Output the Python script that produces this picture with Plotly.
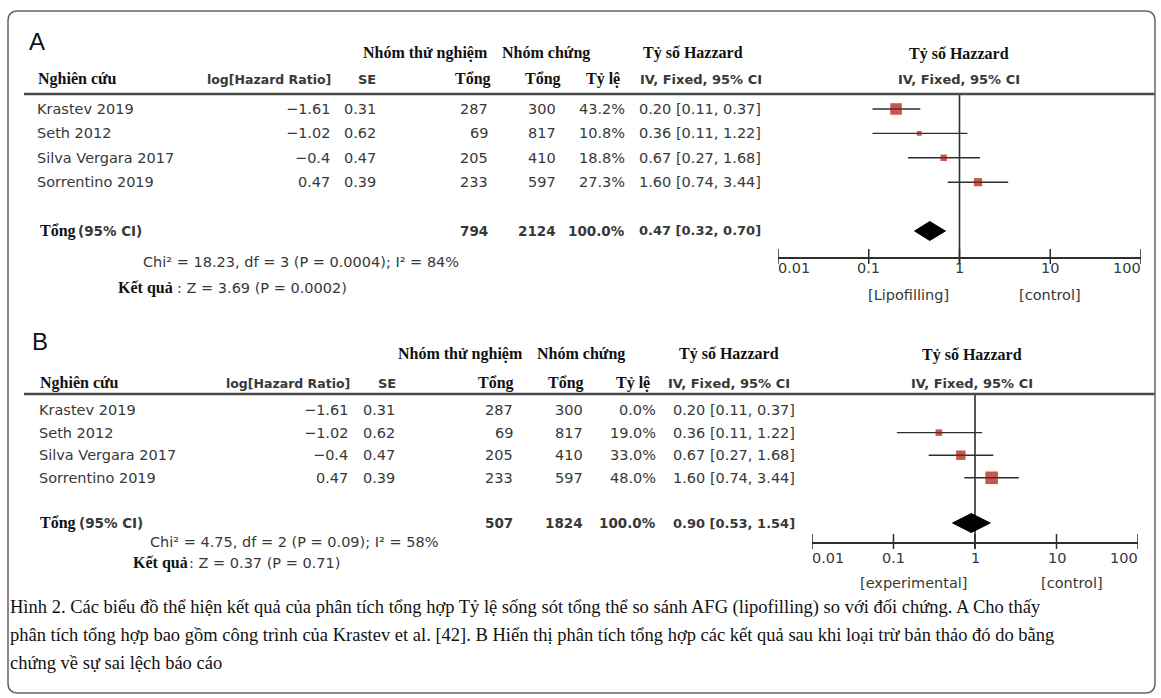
import math
import plotly.graph_objects as go

W, H = 1161, 698

# ---- data -------------------------------------------------------------
studies = ["Krastev 2019", "Seth 2012", "Silva Vergara 2017", "Sorrentino 2019"]
log_hr = [-1.61, -1.02, -0.4, 0.47]
se = [0.31, 0.62, 0.47, 0.39]
exp_total = [287, 69, 205, 233]
ctrl_total = [300, 817, 410, 597]
hr = [0.20, 0.36, 0.67, 1.60]
ci_lo = [0.11, 0.11, 0.27, 0.74]
ci_hi = [0.37, 1.22, 1.68, 3.44]
weight_a = [43.2, 10.8, 18.8, 27.3]
weight_b = [0.0, 19.0, 33.0, 48.0]
pooled_a = [0.47, 0.32, 0.70]
pooled_b = [0.90, 0.53, 1.54]
totals_a = [794, 2124]
totals_b = [507, 1824]
chi_a = "Chi² = 18.23, df = 3 (P = 0.0004); I² = 84%"
chi_b = "Chi² = 4.75, df = 2 (P = 0.09); I² = 58%"
z_a = ": Z = 3.69 (P = 0.0002)"
z_b = ": Z = 0.37 (P = 0.71)"
tick_vals = [0.01, 0.1, 1, 10, 100]
tick_text = ["0.01", "0.1", "1", "10", "100"]
favours_a = ["[Lipofilling]", "[control]"]
favours_b = ["[experimental]", "[control]"]
caption = [
    "Hình 2. Các biểu đồ thể hiện kết quả của phân tích tổng hợp Tỷ lệ sống sót tổng thể so sánh AFG (lipofilling) so với đối chứng. A Cho thấy",
    "phân tích tổng hợp bao gồm công trình của Krastev et al. [42]. B Hiển thị phân tích tổng hợp các kết quả sau khi loại trừ bản thảo đó do bằng",
    "chứng về sự sai lệch báo cáo",
]

# ---- styling ------------------------------------------------------------
SANS = "DejaVu Sans"
SERIF = "Liberation Serif"
TXT = "#383838"
HEAD = "#111111"
RED = "#a8140c"
LINE = "#2e2e2e"
FS = 14.5      # regular table text
FB = 13        # bold table text

# ---- page layout of each panel (pixel positions) ------------------------
panels = [
    dict(label="A", lab_xy=(27, 41), h1=53, h2=79, rule=94, row0=109, step=24.4,
         ax_px=(778, 1141), ax_y=258, dom_bot=275, lab_y=268, fav_y=295,
         fav_x=(951, 1083),
         col_study=35, col_loghr=332, col_se=378, col_exp=490, col_ctrl=558,
         col_w=627, col_ci=763,
         hd_study=36, hd_loghr=333, hd_se=378, hd_exp=493, hd_ctrl=563, hd_w=622,
         hd_ci=638, hd_grp1=361, hd_grp2=500, hd_hr=641, hd_plot=959,
         tot_x=(38, 74), chi_xy=(141, 262), res_xy=(116, 288), res_z=175,
         weights=weight_a, pooled=pooled_a, totals=totals_a, chi=chi_a, z=z_a,
         fav=favours_a, xa="x", ya="y"),
    dict(label="B", lab_xy=(30, 341), h1=354, h2=383, rule=394, row0=410, step=22.6,
         ax_px=(812, 1138), ax_y=543, dom_bot=560, lab_y=558, fav_y=583,
         fav_x=(970, 1105),
         col_study=37, col_loghr=350, col_se=397, col_exp=515, col_ctrl=585,
         col_w=658, col_ci=797,
         hd_study=38, hd_loghr=352, hd_se=398, hd_exp=516, hd_ctrl=586, hd_w=652,
         hd_ci=666, hd_grp1=396, hd_grp2=535, hd_hr=677, hd_plot=972,
         tot_x=(38, 75), chi_xy=(148, 542), res_xy=(131, 563), res_z=187,
         weights=weight_b, pooled=pooled_b, totals=totals_b, chi=chi_b, z=z_b,
         fav=favours_b, xa="x2", ya="y2"),
]

fig = go.Figure()
annotations = []
shapes = []


def note(text, x, y, xref="x3", yref="y3", anchor="left", family=SANS, size=FS,
         color=TXT, xshift=0):
    annotations.append(dict(text=text, x=x, y=y, xref=xref, yref=yref,
                            xanchor=anchor, yanchor="middle", showarrow=False,
                            xshift=xshift,
                            font=dict(family=family, size=size, color=color)))


def fmt(v):
    return f"{v:g}".replace("-", "−")


# full-page pixel axis used for text and frame placement
fig.add_trace(go.Scatter(x=[0], y=[0], xaxis="x3", yaxis="y3", mode="markers",
                         marker=dict(opacity=0), hoverinfo="skip", showlegend=False))

layout_axes = {}
for k, p in enumerate(panels):
    s = p["step"]
    xa, ya = p["xa"], p["ya"]
    idx = lambda py, p=p: (py - p["row0"]) / p["step"]
    y_top = idx(p["rule"])
    y_bot = idx(p["dom_bot"])
    y_axis = idx(p["ax_y"])
    tot_idx = 5

    xname = "xaxis" if k == 0 else "xaxis2"
    yname = "yaxis" if k == 0 else "yaxis2"
    layout_axes[xname] = dict(
        type="log", range=[-2, 2], domain=[p["ax_px"][0] / W, p["ax_px"][1] / W],
        anchor="free", position=1 - p["ax_y"] / H, showline=True, linecolor=LINE,
        linewidth=1.5, showticklabels=False, ticks="",
        showgrid=False, zeroline=False, automargin=False)
    layout_axes[yname] = dict(range=[y_bot, y_top],
                              domain=[1 - p["dom_bot"] / H, 1 - p["rule"] / H],
                              visible=False, anchor=xa, automargin=False)

    # crossing tick marks on the log axis
    tx, ty = [], []
    for v in tick_vals:
        tx += [v, v, None]
        ty += [y_axis - 9 / s, y_axis + 6 / s, None]
    fig.add_trace(go.Scatter(x=tx, y=ty, xaxis=xa, yaxis=ya, mode="lines",
                             line=dict(color=LINE, width=1.5),
                             hoverinfo="skip", showlegend=False))
    # tick labels: end labels sit inside the axis span
    for j, (v, t) in enumerate(zip(tick_vals, tick_text)):
        if j == 0:
            anc, sh = "left", -2
        elif j == len(tick_vals) - 1:
            anc, sh = "right", 2
        else:
            anc, sh = "center", 0
        note(t, math.log10(v), p["lab_y"], xref=xa, anchor=anc, xshift=sh)

    # line of no effect
    fig.add_trace(go.Scatter(x=[1, 1], y=[y_top, y_axis + 6 / s], xaxis=xa, yaxis=ya,
                             mode="lines", line=dict(color=LINE, width=1.6),
                             hoverinfo="skip", showlegend=False))

    # confidence intervals and weighted squares
    rows = [i for i, w in enumerate(p["weights"]) if w > 0]
    cx, cy = [], []
    for i in rows:
        cx += [ci_lo[i], ci_hi[i], None]
        cy += [i, i, None]
    fig.add_trace(go.Scatter(x=cx, y=cy, xaxis=xa, yaxis=ya, mode="lines",
                             line=dict(color=LINE, width=1.4),
                             hoverinfo="skip", showlegend=False))
    fig.add_trace(go.Scatter(
        x=[hr[i] for i in rows], y=rows, xaxis=xa, yaxis=ya, mode="markers",
        marker=dict(symbol="square", color=RED,
                    size=[2.5 + 0.21 * p["weights"][i] for i in rows],
                    line=dict(width=0)),
        hoverinfo="skip", showlegend=False))

    # pooled estimate diamond
    est, lo, hi = p["pooled"]
    hh = 9.5 / s
    fig.add_trace(go.Scatter(
        x=[lo, est, hi, est, lo], y=[tot_idx, tot_idx - hh, tot_idx, tot_idx + hh, tot_idx],
        xaxis=xa, yaxis=ya, mode="lines", fill="toself", fillcolor="black",
        line=dict(color="black", width=1), hoverinfo="skip", showlegend=False))

    # header block
    note(p["label"], p["lab_xy"][0], p["lab_xy"][1], size=24, color=HEAD,
         family="Liberation Sans")
    note("<b>Nhóm thử nghiệm</b>", p["hd_grp1"], p["h1"], family=SERIF, size=16, color=HEAD)
    note("<b>Nhóm chứng</b>", p["hd_grp2"], p["h1"], family=SERIF, size=16, color=HEAD)
    note("<b>Tỷ số Hazzard</b>", p["hd_hr"], p["h1"], family=SERIF, size=16, color=HEAD)
    note("<b>Tỷ số Hazzard</b>", p["hd_plot"], p["h1"] + 1, anchor="center",
         family=SERIF, size=16, color=HEAD)
    note("<b>Nghiên cứu</b>", p["hd_study"], p["h2"], family=SERIF, size=16, color=HEAD)
    note("<b>log[Hazard Ratio]</b>", p["hd_loghr"], p["h2"], anchor="right", size=12.5)
    note("<b>SE</b>", p["hd_se"], p["h2"], anchor="right", size=FB)
    note("<b>Tổng</b>", p["hd_exp"], p["h2"], anchor="right", family=SERIF, size=16, color=HEAD)
    note("<b>Tổng</b>", p["hd_ctrl"], p["h2"], anchor="right", family=SERIF, size=16, color=HEAD)
    note("<b>Tỷ lệ</b>", p["hd_w"], p["h2"], anchor="right", family=SERIF, size=16, color=HEAD)
    note("<b>IV, Fixed, 95% CI</b>", p["hd_ci"], p["h2"], size=FB)
    note("<b>IV, Fixed, 95% CI</b>", p["hd_plot"], p["h2"], anchor="center", size=FB)
    shapes.append(dict(type="line", xref="x3", yref="y3", x0=24, x1=1155,
                       y0=p["rule"], y1=p["rule"], line=dict(color="#4a4a4a", width=2.5)))

    # study rows
    for i, name in enumerate(studies):
        note(name, p["col_study"], i, yref=ya)
        note(fmt(log_hr[i]), p["col_loghr"], i, yref=ya, anchor="right")
        note(f"{se[i]:.2f}", p["col_se"], i, yref=ya, anchor="right")
        note(str(exp_total[i]), p["col_exp"], i, yref=ya, anchor="right")
        note(str(ctrl_total[i]), p["col_ctrl"], i, yref=ya, anchor="right")
        note(f"{p['weights'][i]:.1f}%", p["col_w"], i, yref=ya, anchor="right")
        note(f"{hr[i]:.2f} [{ci_lo[i]:.2f}, {ci_hi[i]:.2f}]", p["col_ci"], i,
             yref=ya, anchor="right")

    # total row
    note("<b>Tổng</b>", p["tot_x"][0], tot_idx, yref=ya, family=SERIF, size=16, color=HEAD)
    note("<b>(95% CI)</b>", p["tot_x"][1] + 2, tot_idx, yref=ya, size=13.5)
    note(f"<b>{p['totals'][0]}</b>", p["col_exp"], tot_idx, yref=ya, anchor="right", size=13.5)
    note(f"<b>{p['totals'][1]}</b>", p["col_ctrl"], tot_idx, yref=ya, anchor="right", size=13.5)
    note("<b>100.0%</b>", p["col_w"], tot_idx, yref=ya, anchor="right", size=13.5)
    note(f"<b>{est:.2f} [{lo:.2f}, {hi:.2f}]</b>", p["col_ci"], tot_idx, yref=ya,
         anchor="right", size=FB)

    # heterogeneity and overall effect
    note(p["chi"], p["chi_xy"][0], p["chi_xy"][1])
    note("<b>Kết quả</b>", p["res_xy"][0], p["res_xy"][1], family=SERIF, size=16, color=HEAD)
    note(p["z"], p["res_z"], p["res_xy"][1])

    # favours labels
    note(p["fav"][0], p["fav_x"][0], p["fav_y"], anchor="right")
    note(p["fav"][1], p["fav_x"][1], p["fav_y"], anchor="right")

# caption
for j, line in enumerate(caption):
    note(line, 8, 607 + 28 * j, family=SERIF, size=18.5, color="#111")

# rounded frame
shapes.append(dict(type="path", xref="x3", yref="y3",
                   path="M 18,11 L 1145,11 Q 1155,11 1155,21 L 1155,683 "
                        "Q 1155,693 1145,693 L 18,693 Q 8,693 8,683 L 8,21 Q 8,11 18,11 Z",
                   line=dict(color="#666", width=1.5)))

fig.update_layout(
    width=W, height=H, margin=dict(l=0, r=0, t=0, b=0, autoexpand=False),
    paper_bgcolor="white", plot_bgcolor="rgba(0,0,0,0)",
    showlegend=False, annotations=annotations, shapes=shapes,
    xaxis3=dict(domain=[0, 1], range=[0, W], visible=False, anchor="y3",
                automargin=False),
    yaxis3=dict(domain=[0, 1], range=[H, 0], visible=False, anchor="x3",
                automargin=False),
    **layout_axes,
)

fig.write_html("out.html")
